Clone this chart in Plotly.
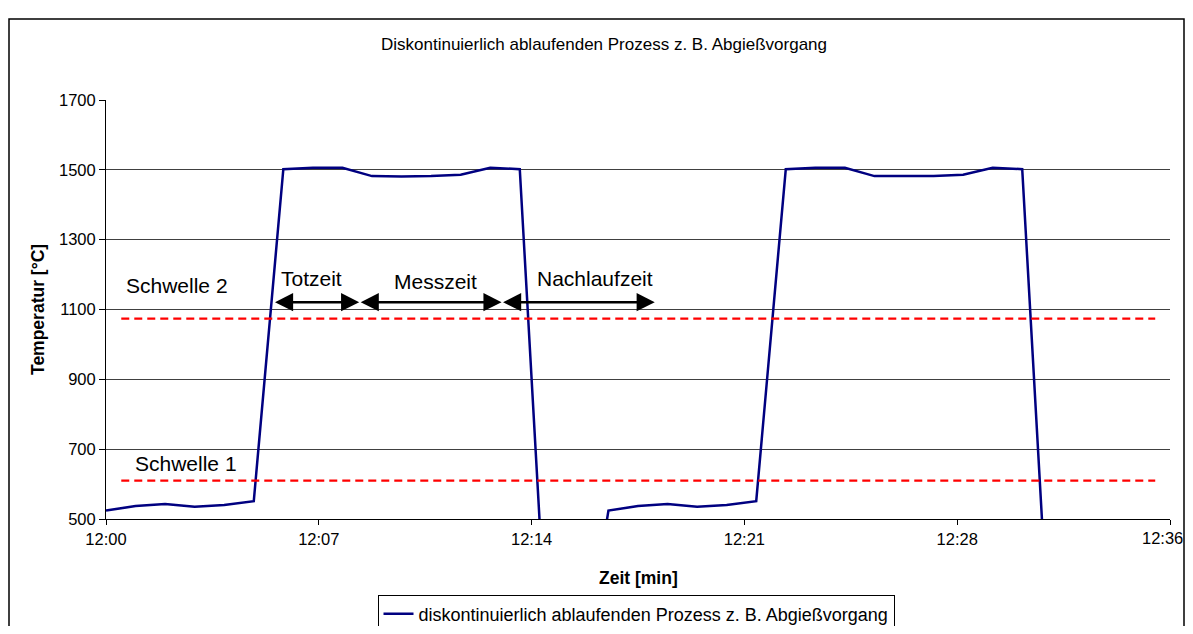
import plotly.graph_objects as go
from datetime import datetime, timedelta

# ---------------- data ----------------
times = ["12:00", "12:01", "12:02", "12:03", "12:04", "12:05", "12:06", "12:07",
         "12:08", "12:09", "12:10", "12:11", "12:12", "12:13", "12:14", "12:15",
         "12:16", "12:17", "12:18", "12:19", "12:20", "12:21", "12:22", "12:23",
         "12:24", "12:25", "12:26", "12:27", "12:28", "12:29", "12:30", "12:31",
         "12:32"]
temperatures = [524, 537, 543, 535, 540, 551, 1502, 1506, 1506, 1482, 1481, 1482,
                1486, 1506, 1502, 0, 0,
                524, 537, 543, 535, 540, 551, 1502, 1506, 1506, 1482, 1481, 1482,
                1486, 1506, 1502, 0]
series_name = "diskontinuierlich ablaufenden Prozess z. B. Abgießvorgang"
schwelle_1 = 610
schwelle_2 = 1074
tick_labels = ["12:00", "12:07", "12:14", "12:21", "12:28", "12:36"]
tick_minutes = [0, 7.2, 14.4, 21.6, 28.8, 36]
y_ticks = [500, 700, 900, 1100, 1300, 1500, 1700]

BASE = datetime(2024, 1, 1, 12, 0, 0)


def at(minutes):
    return (BASE + timedelta(minutes=minutes)).strftime("%Y-%m-%d %H:%M:%S")


x_vals = ["2024-01-01 " + t + ":00" for t in times]

FONT = "Liberation Sans, Arial, sans-serif"
OFF = 8                      # page body margin of the browser
W, H = 1193 - 2 * OFF, 634 - 2 * OFF
L, T = 106 - OFF, 100 - OFF
R = W - (1170 - OFF)
B = H - (519 - OFF)
PW = W - L - R
PH = H - T - B


def px_x(p):                 # screen pixel -> paper x
    return (p - OFF - L) / PW


def px_y(p):                 # screen pixel -> paper y
    return (H - B - (p - OFF)) / PH


fig = go.Figure()
fig.add_trace(go.Scatter(
    x=x_vals, y=temperatures, mode="lines", name=series_name,
    line=dict(color="#000080", width=2.5), showlegend=True,
))

shapes = []
for thr in (schwelle_1, schwelle_2):
    shapes.append(dict(type="line", xref="x", yref="y",
                       x0=at(0.52), x1=at(35.5), y0=thr, y1=thr,
                       line=dict(color="#FF0000", width=2.3, dash="8px,5px")))
# outer chart frame
shapes.append(dict(type="rect", xref="paper", yref="paper",
                   x0=px_x(9), x1=px_x(1184), y0=px_y(660), y1=px_y(19),
                   line=dict(color="black", width=1.5), fillcolor="rgba(0,0,0,0)",
                   layer="below"))

annotations = []
# double-headed arrows
arrow_y = 1121
for a, b in [(5.67, 8.58), (8.58, 13.39), (13.39, 18.58)]:
    annotations.append(dict(
        x=at(b), y=arrow_y, ax=at(a), ay=arrow_y, xref="x", yref="y",
        axref="x", ayref="y", text="", showarrow=True,
        arrowhead=2, arrowsize=1.45, arrowwidth=2.5, arrowcolor="black",
        arrowside="end+start", startarrowhead=2, startarrowsize=1.45,
        standoff=0, startstandoff=0))

label_font = dict(family=FONT, size=21, color="black")
for txt, m, yv in [("Totzeit", 6.98, 1188), ("Messzeit", 11.14, 1180),
                   ("Nachlaufzeit", 16.55, 1188), ("Schwelle 2", 2.41, 1170),
                   ("Schwelle 1", 2.7, 660)]:
    annotations.append(dict(x=at(m), y=yv, xref="x", yref="y", text=txt,
                            showarrow=False, font=label_font,
                            xanchor="center", yanchor="middle"))

# last x tick label, kept inside the page edge
annotations.append(dict(x=px_x(1185), y=px_y(538), xref="paper", yref="paper",
                        text=tick_labels[-1], showarrow=False,
                        font=dict(family=FONT, size=16.5, color="black"),
                        xanchor="right", yanchor="middle"))

# axis titles
annotations.append(dict(x=px_x(38), y=px_y(310), xref="paper", yref="paper",
                        text="<b>Temperatur [°C]</b>", textangle=-90,
                        showarrow=False, font=dict(family=FONT, size=17.5, color="black"),
                        xanchor="center", yanchor="middle"))
annotations.append(dict(x=px_x(638), y=px_y(578), xref="paper", yref="paper",
                        text="<b>Zeit [min]</b>", showarrow=False,
                        font=dict(family=FONT, size=17.5, color="black"),
                        xanchor="center", yanchor="middle"))

fig.update_layout(
    width=W, height=H,
    margin=dict(l=L, r=R, t=T, b=B, autoexpand=False),
    paper_bgcolor="white", plot_bgcolor="white",
    font=dict(family=FONT, size=16, color="black"),
    title=dict(text="Diskontinuierlich ablaufenden Prozess z. B. Abgießvorgang",
               x=(604 - OFF) / W, xref="container", xanchor="center",
               y=1 - (44 - OFF) / H, yref="container", yanchor="middle",
               font=dict(family=FONT, size=17, color="black")),
    xaxis=dict(type="date", range=[at(0), at(36)],
               tickvals=[at(m) for m in tick_minutes],
               ticktext=tick_labels[:-1] + [""],
               showgrid=False, showline=True, linecolor="black", linewidth=1,
               ticks="outside", ticklen=5, tickcolor="black", tickwidth=1,
               ticklabeloverflow="allow",
               tickfont=dict(family=FONT, size=16.5, color="black"),
               zeroline=False, fixedrange=True),
    yaxis=dict(range=[500, 1700], tickvals=y_ticks,
               showgrid=True, gridcolor="#404040", gridwidth=1,
               showline=True, linecolor="black", linewidth=1,
               ticks="outside", ticklen=6, tickcolor="black", tickwidth=1,
               tickfont=dict(family=FONT, size=16.5, color="black"),
               zeroline=False, fixedrange=True),
    showlegend=True,
    legend=dict(x=px_x(636), xanchor="center", y=px_y(614), yanchor="middle",
                orientation="h", bordercolor="black", borderwidth=1,
                bgcolor="white", font=dict(family=FONT, size=18, color="black"),
                itemwidth=30, tracegroupgap=0),
    shapes=shapes,
    annotations=annotations,
)

fig.write_html("out.html")
